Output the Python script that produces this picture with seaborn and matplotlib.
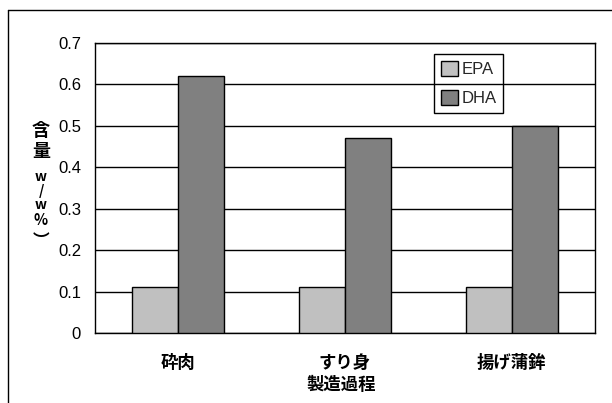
import matplotlib
matplotlib.use("Agg")
import matplotlib.pyplot as plt
from matplotlib.lines import Line2D
from matplotlib.ticker import FixedLocator
import seaborn as sns
import pandas as pd

categories = ["砕肉", "すり身", "揚げ蒲鉾"]
epa = [0.11, 0.11, 0.11]
dha = [0.62, 0.47, 0.50]
series = ["EPA", "DHA"]
colors = ["#c0c0c0", "#808080"]

df = pd.DataFrame({
    "工程": categories * 2,
    "成分": ["EPA"] * 3 + ["DHA"] * 3,
    "含量": epa + dha,
})

sns.set_theme(style="white")
plt.rcParams["font.family"] = ["Liberation Sans", "Noto Sans CJK JP", "DejaVu Sans"]

W, H = 612, 403
fig = plt.figure(figsize=(W / 100, H / 100), dpi=100)
ax = fig.add_axes([95 / W, 1 - 333 / H, 500 / W, 290 / H])

sns.barplot(data=df, x="工程", y="含量", hue="成分", hue_order=series,
            palette=colors, width=0.55, edgecolor="black", linewidth=1.0,
            errorbar=None, ax=ax, zorder=3)

ax.set_xlim(-0.5, 2.5)
ax.set_ylim(0, 0.7)
ax.set_yticks([0, 0.1, 0.2, 0.3, 0.4, 0.5, 0.6, 0.7])
ax.set_yticklabels(["0", "0.1", "0.2", "0.3", "0.4", "0.5", "0.6", "0.7"])
ax.yaxis.grid(True, color="black", linewidth=1.0, zorder=0)
ax.set_axisbelow(True)
ax.tick_params(axis="y", length=0, pad=10, labelsize=12, colors="black")
ax.tick_params(axis="x", which="major", length=0, pad=15)
ax.xaxis.set_minor_locator(FixedLocator([0.5, 1.5]))
ax.tick_params(axis="x", which="minor", direction="in", length=4, width=0.8, color="black")
for lbl in ax.get_xticklabels():
    lbl.set_fontfamily(["Noto Sans CJK JP"])
    lbl.set_fontweight("bold")
    lbl.set_fontsize(12.5)
    lbl.set_color("black")

ax.set_xlabel("")
ax.set_ylabel("")
fig.text(341 / W, 1 - 385 / H, "製造過程", ha="center", va="center",
         fontfamily=["Noto Sans CJK JP"], fontweight="bold", fontsize=12.5, color="black")

for s in ax.spines.values():
    s.set_visible(True)
    s.set_color("black")
    s.set_linewidth(1.0)

# vertical y-axis title, one glyph per row
ylab_chars = ["含", "量", "w", "/", "w", "%", "︶"]
ylab_rows = [130, 152, 177, 191, 205, 220, 241]
ylab_sizes = [13, 13, 10, 10, 10, 10.5, 12]
for ch, yy, fs in zip(ylab_chars, ylab_rows, ylab_sizes):
    fig.text(41 / W, 1 - yy / H, ch, ha="center", va="center",
             fontfamily=["Noto Sans CJK JP"], fontweight="bold",
             fontsize=fs, color="black")

leg = ax.legend(loc="upper left", bbox_to_anchor=(339 / 500, 1 - 11 / 290),
                frameon=True, fancybox=False, facecolor="none", edgecolor="black",
                fontsize=12, handlelength=1.05, handleheight=1.0,
                handletextpad=0.2, borderpad=0.4, labelspacing=0.8,
                borderaxespad=0)
leg.get_frame().set_linewidth(1.0)
leg.get_frame().set_alpha(None)

# outer chart-area border
fig.add_artist(Line2D([8 / W, 1], [1 - 10 / H, 1 - 10 / H], color="black", lw=1.0))
fig.add_artist(Line2D([8 / W, 8 / W], [0, 1 - 10 / H], color="black", lw=1.0))

fig.savefig("out.png", dpi=100)
